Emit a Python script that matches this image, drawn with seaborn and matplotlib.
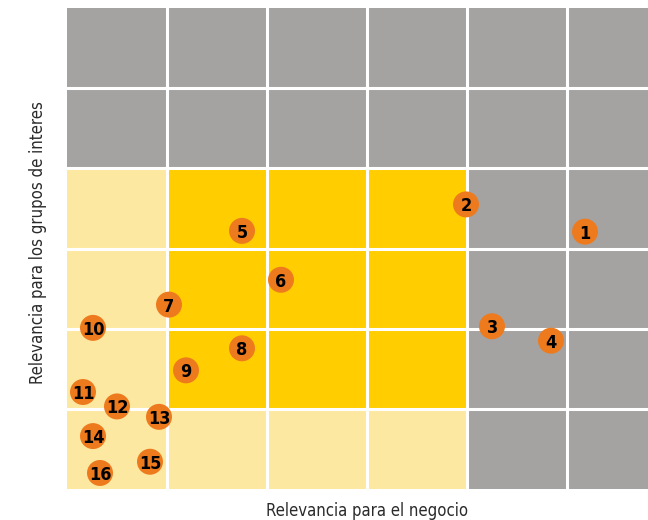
import matplotlib
matplotlib.use("Agg")
import matplotlib.pyplot as plt
from matplotlib.colors import ListedColormap
import numpy as np
import seaborn as sns

# Zone of each grid cell, rows listed from the bottom up
# 0 = light yellow, 1 = yellow, 2 = grey
zone_rows = [
    [0, 0, 0, 0, 2, 2],
    [0, 1, 1, 1, 2, 2],
    [0, 1, 1, 1, 2, 2],
    [0, 1, 1, 1, 2, 2],
    [2, 2, 2, 2, 2, 2],
    [2, 2, 2, 2, 2, 2],
]
zone_colors = ["#FDE8A2", "#FFCD00", "#A4A3A2"]

# Material topics: id, business relevance, stakeholder relevance
topic_ids = list(range(1, 17))
business = [5.18, 3.99, 4.25, 4.84, 1.75, 2.14, 1.02, 1.75,
            1.19, 0.26, 0.16, 0.50, 0.92, 0.26, 0.83, 0.33]
stakeholders = [3.21, 3.55, 2.03, 1.85, 3.22, 2.61, 2.30, 1.755,
                1.48, 2.01, 1.21, 1.03, 0.90, 0.66, 0.34, 0.20]

sns.set_theme(style="white")
plt.rcParams["font.family"] = ["DejaVu Sans"]

fig = plt.figure(figsize=(6.48, 5.2), dpi=100)
ax = fig.add_axes([67 / 648, 31 / 520, 581 / 648, 481 / 520])

sns.heatmap(np.array(zone_rows), cmap=ListedColormap(zone_colors), vmin=-0.5, vmax=2.5,
            cbar=False, linewidths=0, ax=ax)
ax.set_ylim(0, 6)
ax.set_xlim(0, 5.81)

# white separators between cells
for k in range(1, 6):
    ax.axvline(k, color="white", lw=2.2, zorder=2)
    ax.axhline(k, color="white", lw=2.2, zorder=2)

sns.scatterplot(x=business, y=stakeholders, s=350, color="#EE7A1E",
                edgecolor="none", ax=ax, zorder=3)
for tid, bx, sy in zip(topic_ids, business, stakeholders):
    ax.text(bx, sy, str(tid), ha="center", va="center_baseline", fontsize=13,
            fontweight="bold", fontstretch="condensed", color="black", zorder=4)

ax.set_xticks([])
ax.set_yticks([])
for sp in ax.spines.values():
    sp.set_visible(False)

ax.set_xlabel("Relevancia para el negocio", fontsize=12, fontstretch="condensed",
              color="#2a2a2a")
ax.xaxis.set_label_coords((367 - 67) / 581, -0.028, transform=ax.transAxes)
ax.set_ylabel("Relevancia para los grupos de interes", fontsize=12,
              fontstretch="condensed", color="#2a2a2a")
ax.yaxis.set_label_coords(-0.034, (489 - 243) / 481, transform=ax.transAxes)

fig.savefig("out.png", dpi=100)
